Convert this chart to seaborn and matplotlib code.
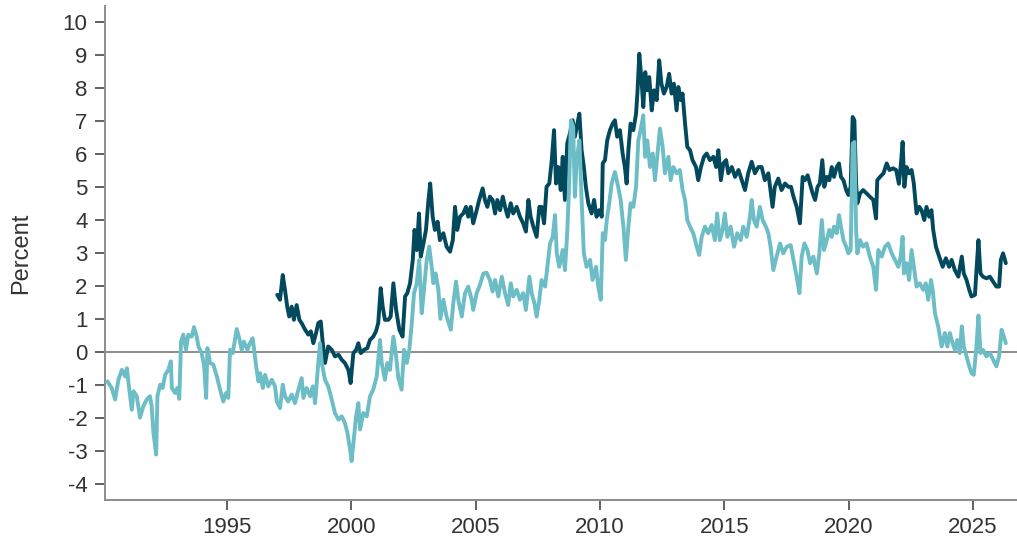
import matplotlib
matplotlib.use("Agg")
import matplotlib.pyplot as plt
import matplotlib.ticker as ticker
import pandas as pd
import seaborn as sns

# Light series (year, percent)
light_years = [
    1990.19, 1990.36, 1990.50, 1990.63, 1990.77, 1990.90, 1990.97, 1991.07, 1991.17, 1991.24,
    1991.37, 1991.50, 1991.63, 1991.77, 1991.90, 1991.97, 1992.04, 1992.15, 1992.20, 1992.31,
    1992.41, 1992.51, 1992.64, 1992.74, 1992.78, 1992.91, 1993.00, 1993.08, 1993.15, 1993.24,
    1993.35, 1993.44, 1993.58, 1993.67, 1993.78, 1993.85, 1993.98, 1994.08, 1994.16, 1994.21,
    1994.32, 1994.45, 1994.59, 1994.72, 1994.85, 1994.96, 1995.05, 1995.12, 1995.23, 1995.32,
    1995.39, 1995.49, 1995.59, 1995.68, 1995.82, 1995.92, 1996.03, 1996.09, 1996.17, 1996.26,
    1996.33, 1996.44, 1996.53, 1996.66, 1996.80, 1996.93, 1997.00, 1997.13, 1997.24, 1997.33,
    1997.46, 1997.60, 1997.73, 1997.87, 1998.00, 1998.07, 1998.20, 1998.34, 1998.45, 1998.54,
    1998.67, 1998.74, 1998.81, 1998.94, 1999.07, 1999.21, 1999.34, 1999.48, 1999.61, 1999.74,
    1999.84, 1999.95, 2000.01, 2000.11, 2000.19, 2000.28, 2000.35, 2000.48, 2000.62, 2000.75,
    2000.88, 2001.02, 2001.15, 2001.22, 2001.35, 2001.45, 2001.55, 2001.69, 2001.80, 2001.89,
    2002.02, 2002.12, 2002.23, 2002.33, 2002.43, 2002.52, 2002.63, 2002.73, 2002.83, 2002.92,
    2003.03, 2003.13, 2003.23, 2003.30, 2003.39, 2003.50, 2003.58, 2003.70, 2003.83, 2004.00,
    2004.10, 2004.21, 2004.30, 2004.44, 2004.57, 2004.70, 2004.84, 2004.90, 2005.04, 2005.17,
    2005.31, 2005.44, 2005.57, 2005.68, 2005.78, 2005.91, 2006.05, 2006.18, 2006.31, 2006.41,
    2006.51, 2006.65, 2006.78, 2006.91, 2007.02, 2007.16, 2007.25, 2007.36, 2007.45, 2007.56,
    2007.65, 2007.79, 2007.88, 2007.99, 2008.10, 2008.19, 2008.26, 2008.36, 2008.50, 2008.59,
    2008.68, 2008.76, 2008.83, 2008.92, 2008.99, 2009.06, 2009.17, 2009.26, 2009.35, 2009.46,
    2009.60, 2009.70, 2009.84, 2009.93, 2010.03, 2010.11, 2010.20, 2010.27, 2010.37, 2010.47,
    2010.60, 2010.73, 2010.83, 2010.94, 2011.04, 2011.14, 2011.23, 2011.34, 2011.45, 2011.54,
    2011.63, 2011.74, 2011.81, 2011.90, 2012.01, 2012.12, 2012.21, 2012.30, 2012.41, 2012.52,
    2012.61, 2012.75, 2012.84, 2012.95, 2013.08, 2013.21, 2013.32, 2013.42, 2013.51, 2013.62,
    2013.75, 2013.89, 2013.99, 2014.09, 2014.22, 2014.35, 2014.49, 2014.62, 2014.71, 2014.82,
    2014.93, 2015.02, 2015.12, 2015.25, 2015.39, 2015.52, 2015.66, 2015.76, 2015.90, 2016.03,
    2016.10, 2016.19, 2016.30, 2016.43, 2016.54, 2016.67, 2016.77, 2016.86, 2016.97, 2017.10,
    2017.24, 2017.37, 2017.51, 2017.67, 2017.78, 2017.91, 2018.02, 2018.11, 2018.22, 2018.34,
    2018.45, 2018.58, 2018.72, 2018.82, 2018.92, 2019.01, 2019.12, 2019.22, 2019.32, 2019.41,
    2019.52, 2019.61, 2019.69, 2019.79, 2019.90, 2019.99, 2020.08, 2020.16, 2020.23, 2020.30,
    2020.35, 2020.46, 2020.58, 2020.72, 2020.85, 2020.99, 2021.10, 2021.19, 2021.33, 2021.46,
    2021.59, 2021.73, 2021.86, 2022.00, 2022.09, 2022.17, 2022.22, 2022.33, 2022.43, 2022.53,
    2022.62, 2022.73, 2022.86, 2023.00, 2023.10, 2023.20, 2023.31, 2023.38, 2023.47, 2023.60,
    2023.74, 2023.87, 2023.97, 2024.07, 2024.18, 2024.27, 2024.37, 2024.47, 2024.55, 2024.63,
    2024.74, 2024.85, 2024.94, 2025.03, 2025.14, 2025.22, 2025.30, 2025.40, 2025.54, 2025.68,
    2025.81, 2025.94, 2026.05, 2026.15, 2026.24, 2026.32,
]
light_values = [
    -0.90, -1.10, -1.45, -0.85, -0.55, -0.75, -0.50, -1.15, -1.76, -1.20,
    -1.35, -2.00, -1.66, -1.45, -1.35, -1.66, -2.46, -3.12, -1.35, -1.00,
    -1.10, -0.70, -0.55, -0.29, -1.10, -1.25, -1.10, -1.43, 0.31, 0.52,
    0.06, 0.52, 0.46, 0.75, 0.46, 0.16, -0.04, -0.44, -1.40, 0.11,
    -0.34, -0.39, -0.75, -1.15, -1.51, -1.25, -1.40, 0.06, -0.04, 0.36,
    0.69, 0.41, 0.06, 0.31, 0.06, 0.26, 0.41, 0.06, -0.44, -0.90,
    -0.65, -1.10, -0.70, -1.05, -0.85, -1.05, -1.51, -1.71, -1.00, -1.35,
    -1.51, -1.30, -1.56, -1.15, -0.80, -1.40, -1.10, -1.35, -1.05, -1.56,
    -0.34, 0.26, -0.34, -0.85, -1.05, -1.45, -1.86, -2.06, -1.96, -2.16,
    -2.46, -2.97, -3.32, -2.57, -1.96, -1.56, -2.36, -1.86, -1.96, -1.35,
    -1.15, -0.75, 0.36, -0.34, -0.85, -0.34, -0.55, 0.46, -0.14, -0.80,
    -1.15, 0.06, -0.34, 0.06, 0.87, 1.78, 2.08, 2.79, 1.17, 1.88,
    2.79, 3.19, 2.58, 2.08, 2.38, 1.88, 1.00, 1.58, 1.07, 0.67,
    1.48, 2.13, 1.58, 1.07, 1.78, 1.98, 1.58, 1.27, 1.78, 2.03,
    2.38, 2.40, 2.18, 1.83, 2.18, 1.68, 2.28, 1.78, 1.42, 2.08,
    1.68, 1.88, 1.58, 1.78, 1.27, 2.28, 1.78, 1.48, 1.07, 1.58,
    2.18, 1.98, 2.58, 3.29, 3.49, 4.15, 2.99, 2.58, 3.09, 2.48,
    3.60, 5.11, 7.03, 6.83, 4.71, 5.82, 6.42, 4.61, 2.99, 2.58,
    2.79, 2.18, 2.58, 1.98, 1.58, 3.60, 3.39, 4.00, 4.51, 5.11,
    5.46, 5.01, 4.61, 3.80, 2.79, 3.80, 4.51, 4.40, 5.01, 6.42,
    6.73, 7.18, 5.92, 6.42, 5.61, 6.02, 5.21, 5.92, 6.78, 6.22,
    5.42, 5.92, 5.21, 5.61, 5.42, 5.52, 4.91, 4.61, 4.00, 3.80,
    3.60, 3.19, 2.94, 3.49, 3.80, 3.60, 3.85, 3.39, 4.20, 3.39,
    3.70, 4.20, 3.49, 3.80, 3.19, 3.60, 3.39, 3.80, 3.49, 4.10,
    4.61, 4.00, 3.80, 4.40, 4.00, 3.80, 3.60, 3.19, 2.48, 2.89,
    3.29, 2.99, 3.19, 3.24, 2.79, 2.28, 1.78, 2.89, 3.29, 3.09,
    2.69, 2.89, 2.38, 2.99, 4.00, 3.09, 3.39, 3.70, 3.49, 3.80,
    3.60, 4.15, 3.80, 3.39, 3.19, 2.99, 3.09, 6.32, 6.37, 3.70,
    2.99, 3.39, 3.19, 3.29, 2.89, 2.58, 1.88, 3.09, 2.89, 3.19,
    3.29, 2.99, 2.79, 2.58, 2.89, 3.49, 2.38, 2.69, 2.18, 3.09,
    2.60, 1.98, 2.08, 1.88, 2.08, 1.58, 2.18, 1.88, 1.17, 0.77,
    0.16, 0.57, 0.16, 0.57, 0.26, 0.06, 0.36, -0.04, 0.77, 0.16,
    -0.14, -0.44, -0.65, -0.70, 0.16, 1.10, -0.04, 0.06, -0.14, -0.04,
    -0.24, -0.44, -0.14, 0.67, 0.46, 0.26,
]

# Dark series (year, percent)
dark_years = [
    1997.02, 1997.13, 1997.24, 1997.33, 1997.42, 1997.50, 1997.60, 1997.69, 1997.80, 1997.91,
    1998.00, 1998.14, 1998.27, 1998.37, 1998.47, 1998.58, 1998.67, 1998.77, 1998.85, 1998.94,
    1999.07, 1999.21, 1999.34, 1999.48, 1999.61, 1999.74, 1999.88, 1999.97, 2000.08, 2000.19,
    2000.28, 2000.38, 2000.51, 2000.64, 2000.75, 2000.88, 2000.99, 2001.08, 2001.18, 2001.26,
    2001.35, 2001.49, 2001.58, 2001.69, 2001.80, 2001.93, 2002.06, 2002.16, 2002.25, 2002.36,
    2002.47, 2002.54, 2002.63, 2002.72, 2002.79, 2002.90, 2003.00, 2003.10, 2003.17, 2003.27,
    2003.36, 2003.47, 2003.56, 2003.70, 2003.83, 2003.97, 2004.08, 2004.17, 2004.26, 2004.37,
    2004.50, 2004.61, 2004.70, 2004.80, 2004.90, 2005.04, 2005.14, 2005.28, 2005.37, 2005.47,
    2005.57, 2005.68, 2005.78, 2005.87, 2005.98, 2006.09, 2006.18, 2006.29, 2006.41, 2006.51,
    2006.65, 2006.78, 2006.91, 2007.02, 2007.12, 2007.21, 2007.32, 2007.45, 2007.56, 2007.65,
    2007.75, 2007.85, 2007.96, 2008.06, 2008.15, 2008.23, 2008.32, 2008.42, 2008.50, 2008.59,
    2008.68, 2008.79, 2008.90, 2008.99, 2009.09, 2009.17, 2009.26, 2009.35, 2009.43, 2009.53,
    2009.66, 2009.76, 2009.86, 2009.97, 2010.07, 2010.11, 2010.20, 2010.29, 2010.40, 2010.51,
    2010.60, 2010.69, 2010.80, 2010.91, 2011.00, 2011.07, 2011.14, 2011.23, 2011.34, 2011.45,
    2011.51, 2011.58, 2011.67, 2011.74, 2011.82, 2011.90, 2011.98, 2012.08, 2012.17, 2012.28,
    2012.38, 2012.47, 2012.57, 2012.68, 2012.78, 2012.88, 2012.97, 2013.08, 2013.15, 2013.25,
    2013.32, 2013.42, 2013.51, 2013.62, 2013.72, 2013.86, 2013.95, 2014.06, 2014.18, 2014.29,
    2014.42, 2014.56, 2014.67, 2014.76, 2014.86, 2014.96, 2015.07, 2015.16, 2015.30, 2015.43,
    2015.57, 2015.70, 2015.83, 2015.96, 2016.10, 2016.23, 2016.37, 2016.50, 2016.63, 2016.77,
    2016.94, 2017.03, 2017.17, 2017.30, 2017.44, 2017.57, 2017.68, 2017.78, 2017.91, 2018.04,
    2018.15, 2018.24, 2018.35, 2018.48, 2018.55, 2018.65, 2018.75, 2018.84, 2018.94, 2019.02,
    2019.12, 2019.22, 2019.32, 2019.41, 2019.52, 2019.61, 2019.69, 2019.79, 2019.90, 2019.99,
    2020.08, 2020.16, 2020.23, 2020.30, 2020.35, 2020.46, 2020.58, 2020.72, 2020.85, 2020.99,
    2021.10, 2021.15, 2021.26, 2021.40, 2021.53, 2021.64, 2021.78, 2021.91, 2022.02, 2022.09,
    2022.17, 2022.24, 2022.33, 2022.43, 2022.53, 2022.62, 2022.73, 2022.84, 2022.93, 2023.04,
    2023.13, 2023.24, 2023.33, 2023.40, 2023.51, 2023.64, 2023.78, 2023.91, 2024.04, 2024.14,
    2024.27, 2024.41, 2024.55, 2024.63, 2024.74, 2024.85, 2024.94, 2025.08, 2025.14, 2025.22,
    2025.30, 2025.40, 2025.54, 2025.68, 2025.81, 2025.94, 2026.05, 2026.12, 2026.21, 2026.32,
]
dark_values = [
    1.73, 1.58, 2.33, 1.88, 1.37, 1.07, 1.37, 0.97, 1.42, 0.97,
    0.87, 0.67, 0.52, 0.62, 0.26, 0.57, 0.87, 0.92, 0.26, -0.34,
    0.16, 0.06, -0.14, -0.09, -0.24, -0.34, -0.55, -0.95, -0.04, 0.06,
    0.26, -0.04, 0.06, 0.11, 0.36, 0.46, 0.62, 0.87, 1.93, 1.37,
    0.97, 0.97, 1.07, 2.08, 1.27, 0.67, 0.46, 1.68, 1.78, 2.08,
    2.79, 3.70, 3.09, 4.20, 2.89, 3.29, 3.70, 4.61, 5.11, 4.10,
    3.70, 3.95, 3.39, 3.60, 3.19, 3.04, 3.39, 4.40, 3.70, 4.10,
    4.20, 4.40, 4.10, 4.40, 3.90, 4.30, 4.61, 4.96, 4.61, 4.40,
    4.71, 4.61, 4.20, 4.61, 4.30, 4.71, 4.40, 4.10, 4.51, 4.20,
    4.40, 4.10, 3.90, 3.65, 4.61, 4.10, 3.80, 3.49, 4.40, 4.40,
    3.90, 5.01, 5.11, 5.82, 6.73, 5.11, 5.61, 4.91, 5.92, 4.61,
    6.32, 6.63, 7.03, 6.53, 6.93, 7.23, 6.12, 5.61, 5.01, 4.51,
    4.20, 4.61, 4.10, 4.30, 4.10, 5.72, 5.82, 6.42, 6.73, 6.93,
    7.03, 6.53, 6.73, 6.02, 5.61, 5.11, 6.12, 6.93, 6.73, 7.23,
    7.94, 9.05, 8.24, 7.43, 8.49, 7.94, 8.34, 7.33, 7.94, 7.64,
    8.85, 8.14, 7.84, 8.04, 8.44, 7.84, 8.14, 7.33, 8.04, 7.64,
    7.84, 6.93, 6.22, 6.12, 5.82, 5.61, 5.21, 5.61, 5.92, 6.02,
    5.82, 5.92, 5.61, 6.12, 5.21, 5.72, 5.82, 5.42, 5.61, 5.31,
    5.52, 5.21, 4.91, 5.42, 5.77, 5.42, 5.61, 5.61, 5.21, 5.42,
    4.40, 5.01, 5.26, 4.91, 5.11, 5.01, 5.01, 4.71, 4.40, 3.90,
    5.31, 5.21, 5.36, 5.01, 4.81, 4.61, 5.01, 5.11, 5.82, 5.01,
    5.31, 5.21, 5.61, 5.31, 5.61, 5.72, 5.31, 5.21, 4.91, 4.76,
    5.01, 7.13, 7.03, 5.11, 4.51, 4.81, 4.91, 4.81, 4.71, 4.61,
    4.05, 5.21, 5.31, 5.42, 5.72, 5.52, 5.57, 5.52, 5.10, 5.61,
    6.37, 5.01, 5.61, 5.42, 5.52, 5.11, 4.20, 4.40, 4.30, 4.00,
    4.40, 4.10, 4.30, 3.70, 3.19, 2.89, 2.58, 2.84, 2.58, 2.79,
    2.48, 2.28, 2.89, 2.38, 2.18, 1.88, 1.68, 1.73, 2.48, 3.39,
    2.38, 2.28, 2.23, 2.28, 2.13, 1.98, 1.98, 2.79, 2.99, 2.69,
]

y_ticks = list(range(-4, 11))
x_ticks = [1995, 2000, 2005, 2010, 2015, 2020, 2025]

color_dark = "#03495e"
color_light = "#6cbdc6"
text_color = "#333333"
axis_color = "#8c8c8c"
tick_color = "#555555"

df_dark = pd.DataFrame({"year": dark_years, "value": dark_values})
df_light = pd.DataFrame({"year": light_years, "value": light_values})

sns.set_style("ticks")
plt.rcParams["font.family"] = ["Liberation Sans", "DejaVu Sans"]
plt.rcParams["axes.unicode_minus"] = False

fig = plt.figure(figsize=(10.17, 5.39), dpi=100)
ax = fig.add_axes([0.1032, 0.0724, 0.8968, 0.9165])

ax.axhline(0, color=axis_color, linewidth=1.4, zorder=1)

sns.lineplot(data=df_dark, x="year", y="value", color=color_dark, linewidth=2.8,
             sort=False, estimator=None, ax=ax, zorder=2)
sns.lineplot(data=df_light, x="year", y="value", color=color_light, linewidth=2.8,
             sort=False, estimator=None, ax=ax, zorder=3)

ax.set_xlim(1990.09, 2026.77)
ax.set_ylim(-4.5, 10.5)
ax.xaxis.set_major_locator(ticker.FixedLocator(x_ticks))
ax.yaxis.set_major_locator(ticker.FixedLocator(y_ticks))

ax.set_xlabel("")
ax.set_ylabel("Percent", fontsize=17, color=text_color, labelpad=22)

for side in ["top", "right"]:
    ax.spines[side].set_visible(False)
for side in ["left", "bottom"]:
    ax.spines[side].set_color(axis_color)
    ax.spines[side].set_linewidth(1.4)

ax.tick_params(axis="both", direction="out", length=7.5, width=1.3, color=tick_color,
               labelsize=16, labelcolor=text_color)
ax.tick_params(axis="x", pad=5)
ax.tick_params(axis="y", pad=5)

fig.savefig("out.png", dpi=100)
plt.close(fig)
